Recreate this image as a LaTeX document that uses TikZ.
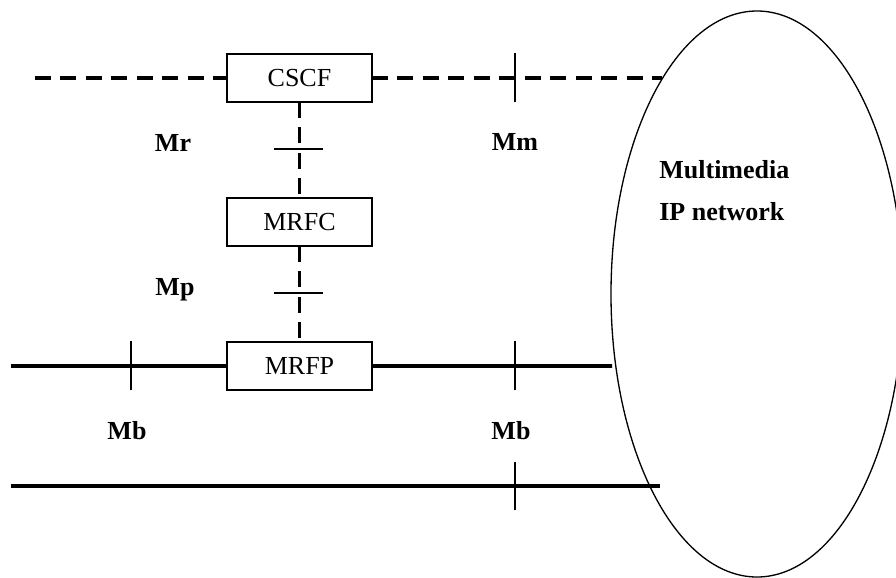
\documentclass[tikz,border=0pt]{standalone}
\usepackage{fontspec}
\setmainfont{Liberation Serif}
\usetikzlibrary{positioning,shapes.geometric}

\begin{document}
\begin{tikzpicture}[
  every node/.style={font=\fontsize{14.8}{18}\selectfont},
  box/.style={draw, line width=0.75pt, minimum width=2.9cm, minimum height=0.96cm, inner sep=0pt, outer sep=0pt},
  dashline/.style={line width=2.2pt, dash pattern=on 9pt off 5.5pt},
  solidline/.style={line width=2.2pt},
  tickline/.style={line width=0.75pt},
  lbl/.style={font=\fontsize{14.8}{18}\selectfont\bfseries, anchor=base}
]
\useasboundingbox (0,0) rectangle (17.92,-11.54);
\clip (0,0) rectangle (17.92,-11.54);

% Network
\node[draw, ellipse, line width=0.75pt, minimum width=5.84cm, minimum height=11.32cm, inner sep=0pt] (ipnet) at (15.14,-5.88) {};
\node[font=\fontsize{14.8}{18}\selectfont\bfseries, anchor=base west, inner sep=0pt] (mmtext) at (13.18,-3.57) {Multimedia};
\node[font=\fontsize{14.8}{18}\selectfont\bfseries, anchor=base west, inner sep=0pt] (iptext) at (13.18,-4.41) {IP network};

% Boxes
\node[box] (cscf) at (5.99,-1.56) {CSCF};
\node[box, below=1.92cm of cscf] (mrfc) {MRFC};
\node[box, below=1.92cm of mrfc] (mrfp) {MRFP};

% Line ends
\coordinate (topleft) at (0.70,-1.56);
\coordinate (topright) at (13.24,-1.56);
\coordinate (midleft) at (0.22,-7.32);
\coordinate (midright) at (12.24,-7.32);
\coordinate (botleft) at (0.22,-9.72);
\coordinate (botright) at (13.20,-9.72);

% Lines
\draw[dashline] (topleft) -- (cscf.west);
\draw[dashline] (cscf.east) -- (topright);
\draw[dashline] (cscf.south) -- (mrfc.north);
\draw[dashline] (mrfc.south) -- (mrfp.north);
\draw[solidline] (midleft) -- (mrfp.west);
\draw[solidline] (mrfp.east) -- (midright);
\draw[solidline] (botleft) -- (botright);

% Reference points
\draw[tickline] (10.30,-1.06) -- (10.30,-2.04);
\draw[tickline] (5.48,-2.98) -- (6.46,-2.98);
\draw[tickline] (5.48,-5.86) -- (6.46,-5.86);
\draw[tickline] (2.62,-6.82) -- (2.62,-7.80);
\draw[tickline] (10.30,-6.82) -- (10.30,-7.80);
\draw[tickline] (10.30,-9.24) -- (10.30,-10.20);

% Labels
\node[lbl] (mr) at (3.46,-3.02) {Mr};
\node[lbl] (mm) at (10.30,-3.01) {Mm};
\node[lbl] (mp) at (3.50,-5.90) {Mp};
\node[lbl] (mbl) at (2.54,-8.78) {Mb};
\node[lbl] (mbr) at (10.22,-8.78) {Mb};

\end{tikzpicture}
\end{document}
